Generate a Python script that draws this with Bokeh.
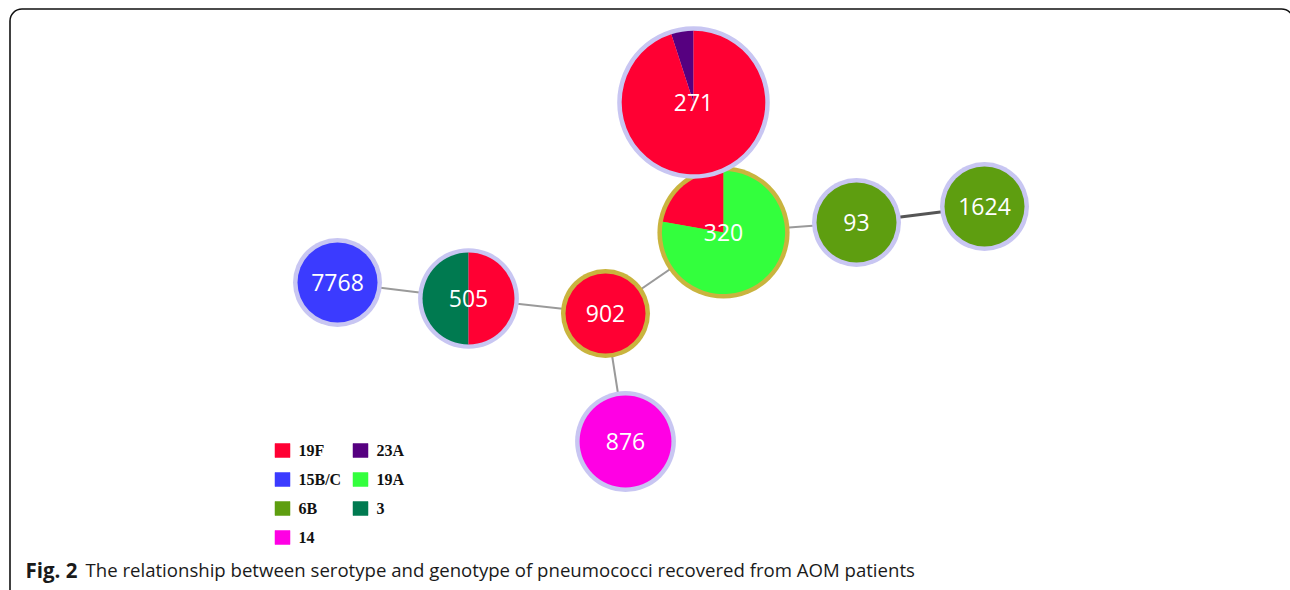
import numpy as np
from bokeh.plotting import figure
from bokeh.models import Range1d, BoxAnnotation
from bokeh.core.properties import value
from bokeh.embed import file_html
from bokeh.resources import INLINE

W, H = 1290, 590

# ---- data ----
serotypes = ["19F", "23A", "15B/C", "19A", "6B", "3", "14"]
serotype_colors = ["#ff0033", "#560080", "#3b3bff", "#33ff3d", "#5e9e10", "#007a50", "#ff00e4"]

st_names = ["320", "271", "93", "1624", "7768", "505", "902", "876"]
# network layout (pixel-like units, y measured from the top)
st_x = [723, 693, 856, 984, 337, 468, 605, 625]
st_y = [232, 102, 222, 206, 282, 298, 313, 441]
# serotype composition per ST, counter-clockwise from 12 o'clock
st_serotypes = [["19F", "19A"], ["23A", "19F"], ["6B"], ["6B"], ["15B/C"], ["3", "19F"], ["19F"], ["14"]]
st_counts = [[2, 7], [1, 19], [1], [1], [1], [1, 1], [1], [2]]

edge_from = ["7768", "505", "902", "902", "320", "93"]
edge_to = ["505", "902", "320", "876", "93", "1624"]

caption_bold = "Fig. 2"
caption_text = "The relationship between serotype and genotype of pneumococci recovered from AOM patients"

# ---- styles ----
gold_ring_sts = {"320", "902"}
strong_edges = {("93", "1624")}
color_of = dict(zip(serotypes, serotype_colors))

p = figure(width=W, height=H, x_range=Range1d(0, W), y_range=Range1d(0, H),
           output_backend="svg", toolbar_location=None,
           x_axis_location=None, y_axis_location=None,
           min_border=0, outline_line_color=None, background_fill_color="white")
p.grid.visible = False

def Y(y):
    return H - y

# frame
p.add_layout(BoxAnnotation(left=9.5, right=1293, top=Y(8.5), bottom=-12,
                           fill_alpha=0, line_color="#111111", line_alpha=1.0,
                           line_width=1.6, border_radius=12))

pos = {n: (x, Y(y)) for n, x, y in zip(st_names, st_x, st_y)}
totals = {n: sum(c) for n, c in zip(st_names, st_counts)}

def radius(n):
    return 44.5 * totals[n] ** 0.18

# edges
for a, b in zip(edge_from, edge_to):
    strong = (a, b) in strong_edges
    p.line([pos[a][0], pos[b][0]], [pos[a][1], pos[b][1]],
           line_color="#555555" if strong else "#9a9a9a",
           line_width=3 if strong else 2)

# nodes
for n, sts, cnts in zip(st_names, st_serotypes, st_counts):
    x, y = pos[n]
    r = radius(n)
    ring = "#c9b43e" if n in gold_ring_sts else "#c8c6f2"
    p.circle([x], [y], radius=r, fill_color=ring, line_color=None)
    tot = sum(cnts)
    start = np.pi / 2
    for s, c in zip(sts, cnts):
        end = start + 2 * np.pi * c / tot
        if c == tot:
            p.circle([x], [y], radius=r - 4.5, fill_color=color_of[s], line_color=None)
        else:
            p.wedge([x], [y], radius=r - 4.5, start_angle=start, end_angle=end,
                    fill_color=color_of[s], line_color=None)
        start = end
    p.text([x], [y], text=[n], text_color="white", text_align="center",
           text_baseline="middle", text_font=value("Open Sans"),
           text_font_size=value("23px"))

# legend
for i, (s, c) in enumerate(zip(serotypes, serotype_colors)):
    col, row = i % 2, i // 2
    lx = 282 + col * 78
    ly = Y(450 + row * 29)
    p.rect([lx], [ly], width=15, height=14, fill_color=c, line_color=c, line_alpha=0.5)
    p.text([lx + 16], [ly], text=[s], text_color="#111111", text_align="left",
           text_baseline="middle", text_font=value("Liberation Serif"),
           text_font_style="bold", text_font_size=value("16px"))

# caption
p.text([25], [Y(569)], text=[caption_bold], text_color="#1a1a1a", text_align="left",
       text_baseline="middle", text_font=value("Open Sans"), text_font_style="bold",
       text_font_size=value("20.5px"))
p.text([85], [Y(569)], text=[caption_text], text_color="#1a1a1a", text_align="left",
       text_baseline="middle", text_font=value("Open Sans"),
       text_font_size=value("18.6px"))

open("out.html", "w").write(file_html(p, INLINE))
